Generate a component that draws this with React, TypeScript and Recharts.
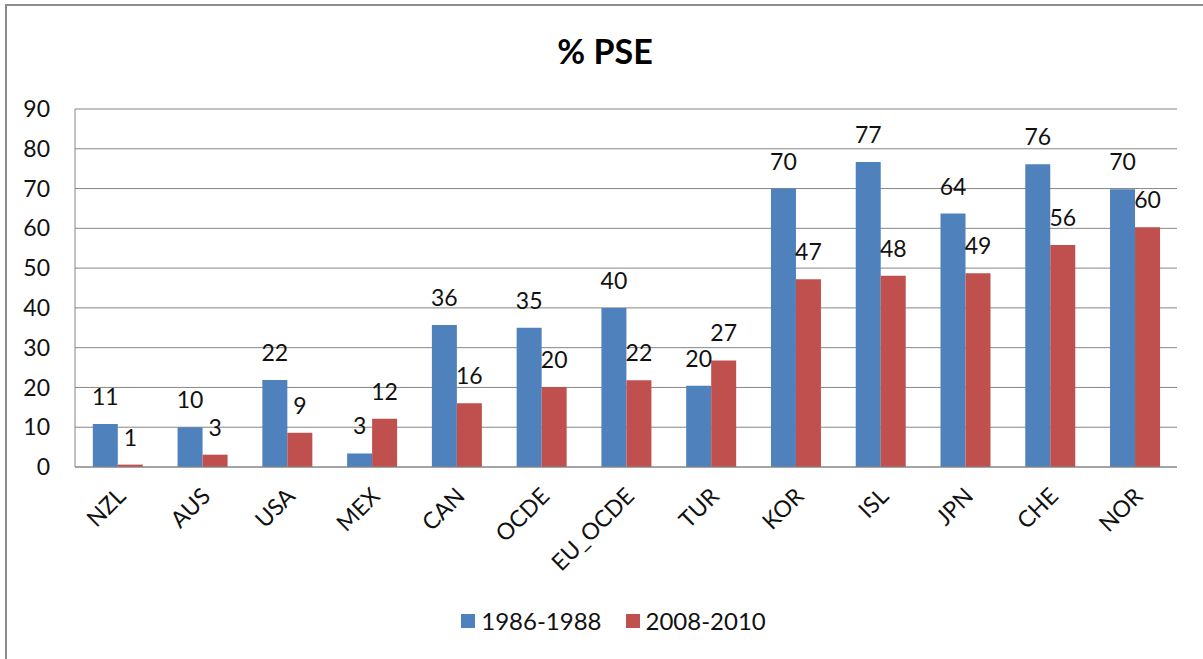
import { BarChart, Bar, XAxis, YAxis, CartesianGrid, LabelList } from "recharts";

const countries = ["NZL", "AUS", "USA", "MEX", "CAN", "OCDE", "EU_OCDE", "TUR", "KOR", "ISL", "JPN", "CHE", "NOR"];
const pse1986 = [10.8, 10.0, 21.9, 3.4, 35.7, 35.0, 40.0, 20.4, 70.0, 76.7, 63.7, 76.1, 69.8];
const pse2008 = [0.6, 3.1, 8.6, 12.1, 16.0, 20.1, 21.8, 26.8, 47.2, 48.1, 48.7, 55.8, 60.3];
const yTicks = [0, 10, 20, 30, 40, 50, 60, 70, 80, 90];

const data = countries.map((c, i) => ({ country: c, p1: pse1986[i], p2: pse2008[i] }));

const FONT = "Lato, 'Open Sans', sans-serif";
const BLUE = "#4F81BD";
const RED = "#C0504D";

function CountryTick(props: any) {
  const { x, y, payload } = props;
  const ax = x + 4;
  const ay = y + 17;
  return (
    <text
      x={ax}
      y={ay}
      dy="0.35em"
      textAnchor="end"
      transform={`rotate(-45, ${ax}, ${ay})`}
      fontSize={23}
      fontFamily={FONT}
      fill="#111"
    >
      {payload.value}
    </text>
  );
}

function LegendBox() {
  const items = [
    { name: "1986-1988", color: BLUE },
    { name: "2008-2010", color: RED },
  ];
  return (
    <div style={{ display: "flex", justifyContent: "center", fontFamily: FONT, fontSize: 24, color: "#111" }}>
      {items.map((it) => (
        <div key={it.name} style={{ display: "flex", alignItems: "center", margin: "0 12px" }}>
          <span style={{ width: 14, height: 14, background: it.color, display: "inline-block", marginRight: 6 }} />
          <span>{it.name}</span>
        </div>
      ))}
    </div>
  );
}

export default function App() {
  return (
    <div
      style={{
        position: "absolute",
        left: 0,
        top: 0,
        width: 1203,
        height: 659,
        overflow: "hidden",
        background: "#fff",
      }}
    >
      <div
        style={{
          position: "absolute",
          left: 5,
          top: 4,
          width: 1198,
          height: 655,
          boxSizing: "border-box",
          borderTop: "2px solid #8c8c8c",
          borderLeft: "2px solid #8c8c8c",
        }}
      />
      <div
        style={{
          position: "absolute",
          left: 0,
          top: 30,
          width: 1210,
          textAlign: "center",
          fontFamily: FONT,
          fontWeight: "bold",
          fontSize: 34,
          color: "#000",
        }}
      >
        % PSE
      </div>
      <div style={{ position: "absolute", left: 0, top: 0 }}>
        <BarChart
          width={1203}
          height={659}
          data={data}
          margin={{ top: 109, right: 26, left: 15, bottom: 92 }}
          barCategoryGap="21%"
          barGap={0}
        >
          <CartesianGrid vertical={false} stroke="#868686" strokeWidth={1} />
          <XAxis
            dataKey="country"
            axisLine={{ stroke: "#868686" }}
            tickLine={false}
            tick={<CountryTick />}
            height={100}
            interval={0}
          />
          <YAxis
            domain={[0, 90]}
            ticks={yTicks}
            width={60}
            axisLine={{ stroke: "#868686" }}
            tickLine={false}
            tickSize={0}
            tickMargin={25}
            tick={{ fontSize: 23, fontFamily: FONT, fill: "#111" }}
          />
          <Bar dataKey="p1" name="1986-1988" fill={BLUE} isAnimationActive={false}>
            <LabelList
              dataKey="p1"
              position="top"
              offset={19}
              formatter={(v: any) => Math.round(Number(v))}
              style={{ fontSize: 23, fontFamily: FONT, fill: "#111" }}
            />
          </Bar>
          <Bar dataKey="p2" name="2008-2010" fill={RED} isAnimationActive={false}>
            <LabelList
              dataKey="p2"
              position="top"
              offset={19}
              formatter={(v: any) => Math.round(Number(v))}
              style={{ fontSize: 23, fontFamily: FONT, fill: "#111" }}
            />
          </Bar>
        </BarChart>
      </div>
      <div style={{ position: "absolute", left: 12, top: 606, width: 1203 }}>
        <LegendBox />
      </div>
    </div>
  );
}
